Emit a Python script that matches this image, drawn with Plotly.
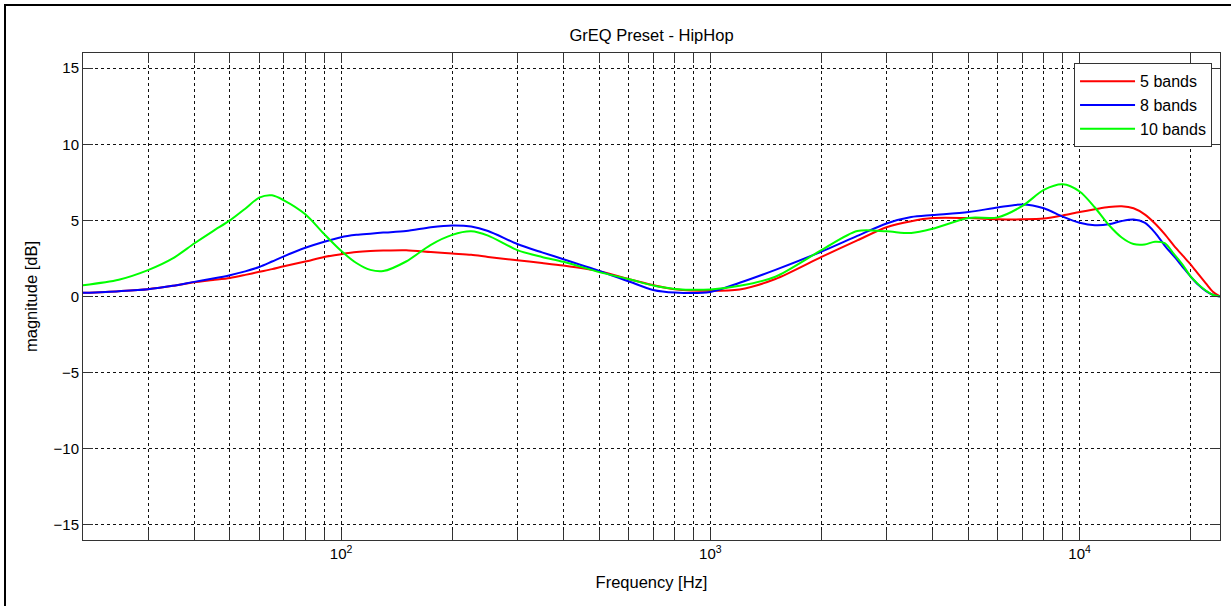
import plotly.graph_objects as go

# Frequency grid (Hz)
freq = [20, 25, 30, 35, 40, 45, 50, 55, 60, 65, 70, 80, 90, 100, 110, 120, 130, 150, 175,
        200, 225, 250, 300, 350, 400, 500, 600, 700, 800, 1000, 1200, 1500, 2000, 2500,
        3000, 3500, 4000, 5000, 6000, 7000, 8000, 9000, 10000, 11000, 12000, 13000, 14000,
        15000, 16000, 17000, 18000, 19000, 20000, 21000, 22000, 23000, 24000]

bands5 = [0.24, 0.35, 0.48, 0.70, 0.93, 1.08, 1.22, 1.42, 1.62, 1.80, 1.99, 2.30, 2.60, 2.78,
          2.92, 2.99, 3.02, 3.04, 2.92, 2.82, 2.74, 2.60, 2.38, 2.20, 2.03, 1.66, 1.15, 0.75,
          0.48, 0.37, 0.46, 1.15, 2.60, 3.69, 4.55, 4.95, 5.15, 5.15, 5.08, 5.07, 5.12, 5.33,
          5.55, 5.73, 5.88, 5.93, 5.80, 5.40, 4.80, 4.10, 3.35, 2.70, 2.10, 1.45, 0.85, 0.30, 0.0]

bands8 = [0.24, 0.35, 0.48, 0.70, 0.96, 1.18, 1.40, 1.65, 1.94, 2.30, 2.64, 3.20, 3.60, 3.90,
          4.05, 4.13, 4.20, 4.30, 4.55, 4.67, 4.60, 4.30, 3.45, 2.90, 2.45, 1.68, 1.00, 0.43,
          0.26, 0.30, 0.90, 1.75, 2.95, 3.98, 4.80, 5.22, 5.35, 5.55, 5.85, 6.05, 5.80, 5.25,
          4.85, 4.68, 4.74, 4.96, 5.06, 4.85, 4.20, 3.35, 2.65, 1.95, 1.30, 0.75, 0.35, 0.10, 0.0]

bands10 = [0.74, 1.10, 1.73, 2.50, 3.48, 4.30, 5.00, 5.77, 6.50, 6.65, 6.32, 5.40, 4.10, 3.00,
           2.20, 1.75, 1.67, 2.30, 3.40, 4.05, 4.28, 4.00, 3.05, 2.60, 2.28, 1.60, 1.15, 0.72,
           0.50, 0.46, 0.70, 1.30, 3.05, 4.30, 4.28, 4.17, 4.45, 5.16, 5.20, 5.95, 7.00, 7.37,
           6.90, 5.85, 4.70, 3.88, 3.45, 3.42, 3.60, 3.50, 2.80, 2.10, 1.30, 0.78, 0.38, 0.10, 0.0]

series_names = ["5 bands", "8 bands", "10 bands"]
series_colors = ["#FF0000", "#0000FF", "#00FF00"]

x_major_vals = [100, 1000, 10000]
x_major_text = ["10<sup>2</sup>", "10<sup>3</sup>", "10<sup>4</sup>"]
x_minor_vals = [30, 40, 50, 60, 70, 80, 90, 200, 300, 400, 500, 600, 700, 800, 900,
                2000, 3000, 4000, 5000, 6000, 7000, 8000, 9000, 20000]
y_tickvals = [-15, -10, -5, 0, 5, 10, 15]

FONT = "Liberation Sans, Arial, sans-serif"
GRID = "#111111"
AX = "#333333"

fig = go.Figure()
for name, vals, col in zip(series_names, [bands5, bands8, bands10], series_colors):
    fig.add_trace(go.Scatter(x=freq, y=vals, mode="lines", name=name,
                             line=dict(color=col, width=2, shape="spline", smoothing=0.8)))

axis_common = dict(showline=True, linecolor=AX, linewidth=1, mirror="ticks",
                   ticks="inside", ticklen=10, tickcolor=AX,
                   showgrid=True, gridcolor=GRID, gridwidth=1, griddash="3px,3px",
                   zeroline=False, automargin=False,
                   tickfont=dict(family=FONT, size=15, color="#000"))

fig.update_xaxes(type="log", range=[1.30103, 4.38021], tickmode="array",
                 tickvals=x_major_vals, ticktext=x_major_text,
                 minor=dict(tickmode="array", tickvals=x_minor_vals, ticks="inside",
                            ticklen=10, tickcolor=AX, showgrid=True, gridcolor=GRID,
                            gridwidth=1, griddash="3px,3px"),
                 title=dict(text="Frequency [Hz]", font=dict(family=FONT, size=16.5, color="#000"),
                            standoff=15),
                 **axis_common)
fig.update_yaxes(range=[-16, 16], tickmode="array", tickvals=y_tickvals,
                 title=dict(text="magnitude [dB]", font=dict(family=FONT, size=16.5, color="#000"),
                            standoff=11),
                 **axis_common)

fig.update_layout(
    width=1231, height=606,
    margin=dict(l=83, r=11, t=53, b=66),
    paper_bgcolor="white", plot_bgcolor="white",
    title=dict(text="GrEQ Preset - HipHop", x=(83 + 1220) / 2 / 1231, xanchor="center",
               y=1 - 35 / 606, yanchor="middle",
               font=dict(family=FONT, size=16.5, color="#000")),
    legend=dict(x=0.993, xanchor="right", y=0.979, yanchor="top",
                bgcolor="white", bordercolor=AX, borderwidth=1,
                font=dict(family=FONT, size=16, color="#000"),
                tracegroupgap=0, itemwidth=55),
    shapes=[dict(type="rect", xref="paper", yref="paper",
                 x0=(5 - 83) / 1137, x1=1.2, y0=-0.4, y1=(540 - 5) / 487,
                 line=dict(color="black", width=2), fillcolor="rgba(0,0,0,0)", layer="above")],
)

fig.write_html("out.html", config={"displayModeBar": False},
               post_script="document.body.style.margin='0px';")
